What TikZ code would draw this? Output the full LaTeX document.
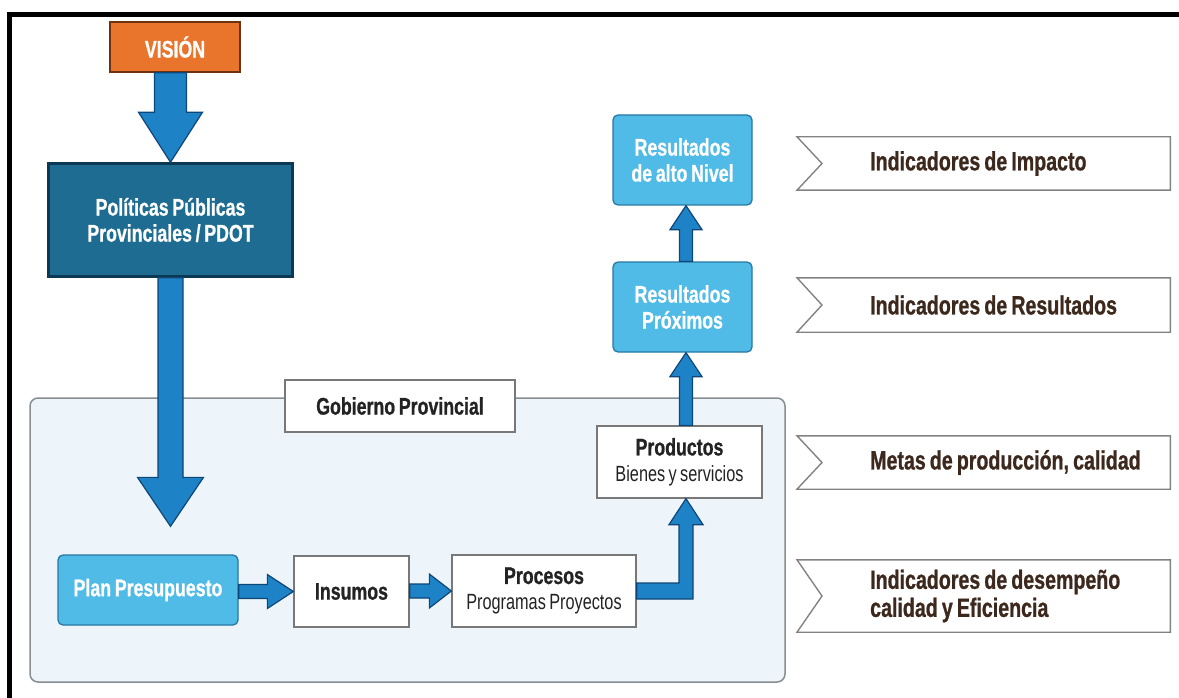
\documentclass[tikz,border=0pt]{standalone}
\usepackage{fontspec}
\setmainfont{Liberation Sans}[FakeStretch=0.74,WordSpace=0.75,BoldFeatures={FakeBold=0.8}]
\usepackage{tikz}
\usetikzlibrary{calc}
\definecolor{visionorange}{RGB}{233,117,44}
\definecolor{visionedge}{RGB}{110,50,15}
\definecolor{politicasblue}{RGB}{30,108,146}
\definecolor{politicasedge}{RGB}{12,56,84}
\definecolor{arrowblue}{RGB}{30,130,198}
\definecolor{arrowdark}{RGB}{14,70,120}
\definecolor{lightblue}{RGB}{80,187,230}
\definecolor{lightedge}{RGB}{40,120,165}
\definecolor{gobfill}{RGB}{237,245,250}
\definecolor{gobedge}{RGB}{135,142,146}
\definecolor{boxgray}{RGB}{120,120,120}
\definecolor{inkdark}{RGB}{35,35,35}
\definecolor{chevgray}{RGB}{130,130,130}
\definecolor{chevbrown}{RGB}{60,40,28}

% block arrows: tail, tip, shaft half width, head half width, head length
\newcommand\blockv[5]{%
  \path[blockarrow] let \p1=(#1), \p2=(#2), \n1={ifthenelse(\y1>\y2,1,-1)} in
    ({\x2-#3},\y1) -- ({\x2-#3},{\y2+\n1*#5}) -- ({\x2-#4},{\y2+\n1*#5}) -- (\x2,\y2)
    -- ({\x2+#4},{\y2+\n1*#5}) -- ({\x2+#3},{\y2+\n1*#5}) -- ({\x2+#3},\y1) -- cycle;}
\newcommand\blockh[5]{%
  \path[blockarrow] let \p1=(#1), \p2=(#2), \n1={ifthenelse(\x1>\x2,1,-1)} in
    (\x1,{\y2-#3}) -- ({\x2+\n1*#5},{\y2-#3}) -- ({\x2+\n1*#5},{\y2-#4}) -- (\x2,\y2)
    -- ({\x2+\n1*#5},{\y2+#4}) -- ({\x2+\n1*#5},{\y2+#3}) -- (\x1,{\y2+#3}) -- cycle;}

\begin{document}
\begin{tikzpicture}[x=1pt,y=-1pt,
    lbl/.style={font=\fontsize{24}{26}\selectfont\bfseries,align=center,inner sep=0pt},
    whitebox/.style={lbl,draw=boxgray,line width=1.3pt,fill=white,text=inkdark},
    bluebox/.style={lbl,draw=lightedge,line width=1.3pt,fill=lightblue,text=white,
                    rounded corners=5pt},
    blockarrow/.style={fill=arrowblue,draw=arrowdark,line width=1.2pt,line join=miter},
    chev/.style={draw=chevgray,line width=1.4pt},
    chevtext/.style={font=\fontsize{26.5}{28}\selectfont\bfseries,text=chevbrown,
                     text width=300pt,align=flush left,inner sep=0pt,anchor=west}]
  \useasboundingbox (0,0) rectangle (1179,698);
  \draw[line width=5pt] (9.5,698) -- (9.5,14.5) -- (1179,14.5);

  % provincial government area
  \node[draw=gobedge,line width=1.5pt,fill=gobfill,rounded corners=8pt,inner sep=0pt,
        minimum width=755pt,minimum height=284pt] (gob) at (407.5,540) {};
  \node[whitebox,minimum width=230pt,minimum height=52pt] (gobl) at (400,406) {Gobierno Provincial};

  \node[lbl,draw=visionedge,line width=1.5pt,fill=visionorange,text=white,
        minimum width=130pt,minimum height=50pt] (vision) at (175,47) {VISIÓN};
  \node[lbl,draw=politicasedge,line width=2.5pt,fill=politicasblue,text=white,
        minimum width=244pt,minimum height=113pt] (pol) at (170.5,220)
        {Políticas Públicas\\Provinciales / PDOT};

  \node[bluebox,minimum width=180pt,minimum height=70pt] (plan) at (148,590) {Plan Presupuesto};
  \node[whitebox,minimum width=115pt,minimum height=71pt] (ins) at (351.5,591.5) {Insumos};
  \node[whitebox,minimum width=184pt,minimum height=72pt] (proc) at (544,591)
        {Procesos\\{\fontsize{22}{24}\selectfont\mdseries Programas Proyectos}};
  \node[whitebox,minimum width=165pt,minimum height=72pt] (prod) at (679.5,462)
        {Productos\\{\fontsize{22}{24}\selectfont\mdseries Bienes y servicios}};
  \node[bluebox,minimum width=139pt,minimum height=90pt] (prox) at (682.5,307) {Resultados\\Próximos};
  \node[bluebox,minimum width=139pt,minimum height=90pt] (alto) at (682.5,160) {Resultados\\de alto Nivel};

  % arrows
  \coordinate (planin) at ($(plan.north -| pol.south)+(0,-28)$);
  \blockv{vision.south}{pol.north}{16pt}{32pt}{50pt}
  \blockv{pol.south}{planin}{12.5pt}{33pt}{49pt}
  \blockh{plan.east}{ins.west}{7pt}{17pt}{26pt}
  \blockh{ins.east}{proc.west}{7pt}{17pt}{22pt}
  \path[blockarrow] let \p1=(proc.east), \p2=([xshift=6.5pt]prod.south) in
    (\x1,{\y1+8pt}) -- ({\x2-7pt},{\y1+8pt}) -- ({\x2-7pt},{\y2-26pt}) -- ({\x2-17pt},{\y2-26pt})
    -- (\x2,\y2) -- ({\x2+17pt},{\y2-26pt}) -- ({\x2+7pt},{\y2-26pt}) -- ({\x2+7pt},{\y1-8pt})
    -- (\x1,{\y1-8pt}) -- cycle;
  \blockv{[xshift=6.5pt]prod.north}{[xshift=3.5pt]prox.south}{6.5pt}{16pt}{24pt}
  \blockv{[xshift=3.5pt]prox.north}{[xshift=3.5pt]alto.south}{6.5pt}{16pt}{24pt}

  % indicators
  \foreach \nm/\yt/\yb/\txt in {imp/137/190/{Indicadores de Impacto},
      resl/278/332/{Indicadores de Resultados},
      metas/436/489/{Metas de producción, calidad},
      desem/560/632/{Indicadores de desempeño\\calidad y Eficiencia}}{
    \node[chevtext,minimum height={\yb-\yt}] (\nm) at (870,{(\yt+\yb)/2}) {\txt};
    \draw[chev] ([xshift=-73pt]\nm.north west) -- (\nm.north east) -- (\nm.south east)
          -- ([xshift=-73pt]\nm.south west) -- ([xshift=-48pt]\nm.west) -- cycle;
  }
\end{tikzpicture}
\end{document}
